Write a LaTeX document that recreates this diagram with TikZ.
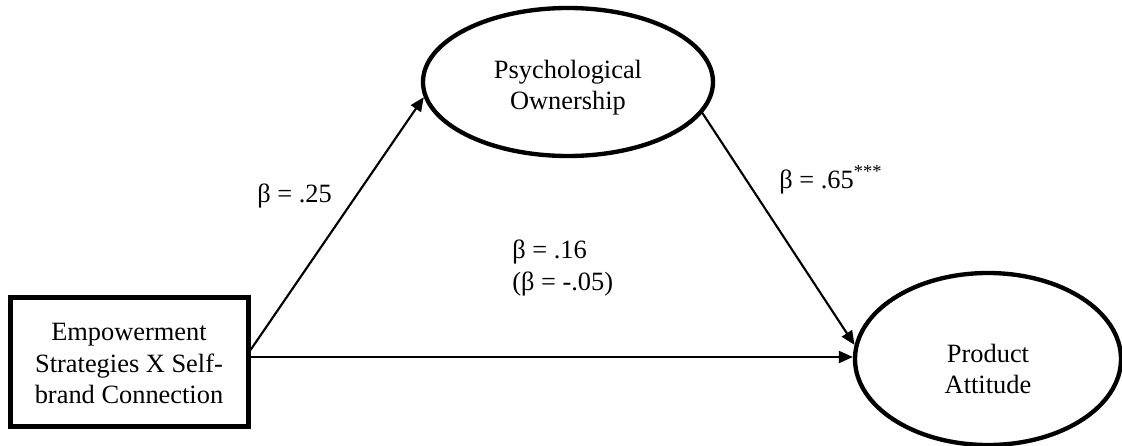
\documentclass[tikz,border=0pt]{standalone}
\usepackage{fontspec}
\setmainfont{Liberation Serif}
\usetikzlibrary{shapes.geometric,arrows.meta}
\newcommand{\lowtext}[2]{\raisebox{-#1}[0pt][0pt]{\begin{tabular}{@{}c@{}}#2\end{tabular}}}
\begin{document}
\begin{tikzpicture}[x=0.75pt,y=-0.75pt,
  every node/.style={font=\fontsize{19.8}{23.5}\selectfont},
  latent/.style={ellipse,draw,line width=3.25pt,inner sep=0pt,align=center},
  obsbox/.style={rectangle,draw,line width=3.75pt,inner sep=0pt,align=center,minimum width=178.5pt,minimum height=96.75pt},
  path/.style={line width=1.6pt,-{Triangle[length=10.5pt,width=9pt]}},
  coef/.style={anchor=base west,inner sep=0pt}]
\useasboundingbox (0,0) rectangle (1122,446);
\node[obsbox] (B) at (129,362) {\lowtext{8pt}{Empowerment\\Strategies X Self-\\brand Connection}};
\node[latent,minimum width=217.5pt,minimum height=111pt] (PO) at (568,82) {\lowtext{9.5pt}{Psychological\\Ownership}};
\node[latent,minimum width=199.5pt,minimum height=129pt] (PA) at (988,359) {\lowtext{14.5pt}{Product\\Attitude}};
\coordinate (hs) at ([yshift=3.75pt]B.east);
\draw[path] ([yshift=9pt]B.east) -- (PO.186);
\draw[path] (PO.-13) -- (PA.174);
\draw[path] (hs) -- (PA.west |- hs);
\node[coef] (c1) at (257,202) {β = .25};
\node[coef] (c2) at (779,188) {β = .65\textsuperscript{***}};
\node[coef,align=left] (c3) at (512,290) {β = .16\\(β = -.05)};
\end{tikzpicture}
\end{document}
